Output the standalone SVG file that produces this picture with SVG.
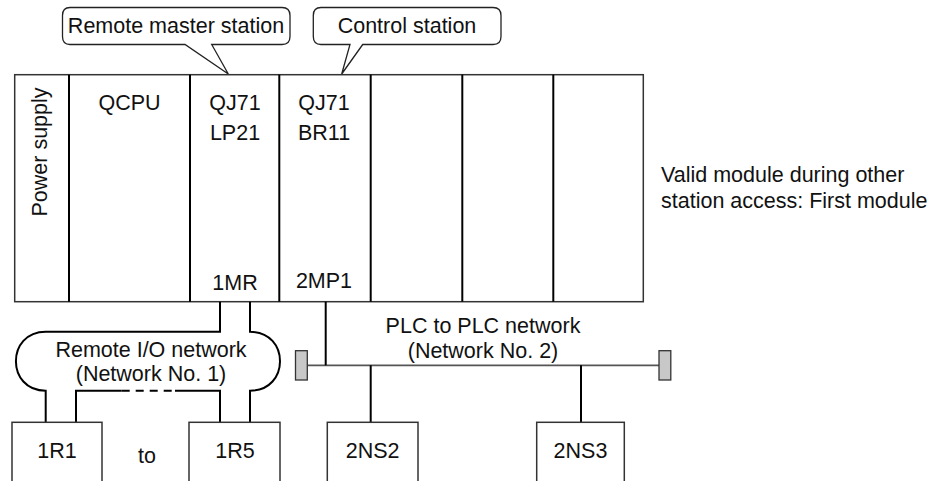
<svg xmlns="http://www.w3.org/2000/svg" width="939" height="481" viewBox="0 0 939 481">
<style>
text{font-family:"Liberation Sans",Arial,sans-serif;font-size:21.5px;fill:#111}
.c{text-anchor:middle}
.box{fill:#fff;stroke:#333;stroke-width:1.5}
.div{stroke:#000;stroke-width:2}
.ln{fill:none;stroke:#000;stroke-width:2}
.bus{fill:none;stroke:#555;stroke-width:1.8}
.term{fill:#c8c8c8;stroke:#333;stroke-width:1.3}
.call{fill:#fff;stroke:#222;stroke-width:1.3}
</style>
<g id="callout-remote-master">
<path class="call" d="M70,7.5 H282 Q290,7.5 290,15.5 V36.5 Q290,44.5 282,44.5 H211.7 L228.3,74 L185,44.5 H70 Q62.5,44.5 62.5,36.5 V15.5 Q62.5,7.5 70,7.5 Z"/>
<text class="c" x="176" y="33">Remote master station</text>
</g>
<g id="callout-control">
<path class="call" d="M321,7.5 H493 Q501,7.5 501,15.5 V36.5 Q501,44.5 493,44.5 H362.7 L341.7,74 L350,44.5 H321 Q313.3,44.5 313.3,36.5 V15.5 Q313.3,7.5 321,7.5 Z"/>
<text class="c" x="407" y="33">Control station</text>
</g>
<g id="rack">
<rect class="box" x="14.7" y="74.7" width="628.6" height="227"/>
<line class="div" x1="69" y1="74.7" x2="69" y2="301.7"/>
<line class="div" x1="190" y1="74.7" x2="190" y2="301.7"/>
<line class="div" x1="279.3" y1="74.7" x2="279.3" y2="301.7"/>
<line class="div" x1="370.7" y1="74.7" x2="370.7" y2="301.7"/>
<line class="div" x1="462.3" y1="74.7" x2="462.3" y2="301.7"/>
<line class="div" x1="553.3" y1="74.7" x2="553.3" y2="301.7"/>
<text class="c" transform="translate(47,152) rotate(-90)">Power supply</text>
<text class="c" x="129.5" y="110">QCPU</text>
<text class="c" x="235" y="110">QJ71</text>
<text class="c" x="235" y="140">LP21</text>
<text class="c" x="235" y="290">1MR</text>
<text class="c" x="324" y="110">QJ71</text>
<text class="c" x="324" y="140">BR11</text>
<text class="c" x="324" y="288">2MP1</text>
</g>
<g id="note">
<text x="661" y="182">Valid module during other</text>
<text x="661" y="208">station access: First module</text>
</g>
<g id="connectors">
<path class="ln" d="M220,301.7 V331.7 H45.7 C6,331.7 6,390.7 45.7,390.7 V422.3"/>
<path class="ln" d="M250,301.7 V331.7 C290,331.7 290,390.7 250,390.7 V422.3"/>
<path class="ln" d="M76,422.3 V390.7 H121.7 M175,390.7 H220 V422.3"/>
<path class="ln" d="M121.7,390.7 H175" stroke-dasharray="8,6"/>
<line class="bus" x1="307.3" y1="365.3" x2="659" y2="365.3"/>
<path class="ln" d="M325.7,301.7 V365.3"/>
<path class="ln" d="M370.7,365.3 V422.3"/>
<path class="ln" d="M581,365.3 V422.3"/>
</g>
<g id="remote-io-network">
<text class="c" x="151" y="357">Remote I/O network</text>
<text class="c" x="151" y="381">(Network No. 1)</text>
</g>
<g id="plc-network">
<rect class="term" x="295.5" y="350.7" width="11.8" height="29.3"/>
<rect class="term" x="659" y="350.7" width="11.8" height="29.3"/>
<text class="c" x="483" y="333">PLC to PLC network</text>
<text class="c" x="483" y="358">(Network No. 2)</text>
</g>
<g id="node-1R1">
<rect class="box" x="12" y="422.3" width="90" height="70"/>
<text class="c" x="57" y="458">1R1</text>
</g>
<text class="c" x="147" y="463">to</text>
<g id="node-1R5">
<rect class="box" x="189" y="422.3" width="91" height="70"/>
<text class="c" x="235" y="458">1R5</text>
</g>
<g id="node-2NS2">
<rect class="box" x="327.3" y="422.3" width="90.7" height="70"/>
<text class="c" x="372.7" y="458">2NS2</text>
</g>
<g id="node-2NS3">
<rect class="box" x="536.7" y="422.3" width="87.6" height="70"/>
<text class="c" x="580.5" y="458">2NS3</text>
</g>
</svg>
